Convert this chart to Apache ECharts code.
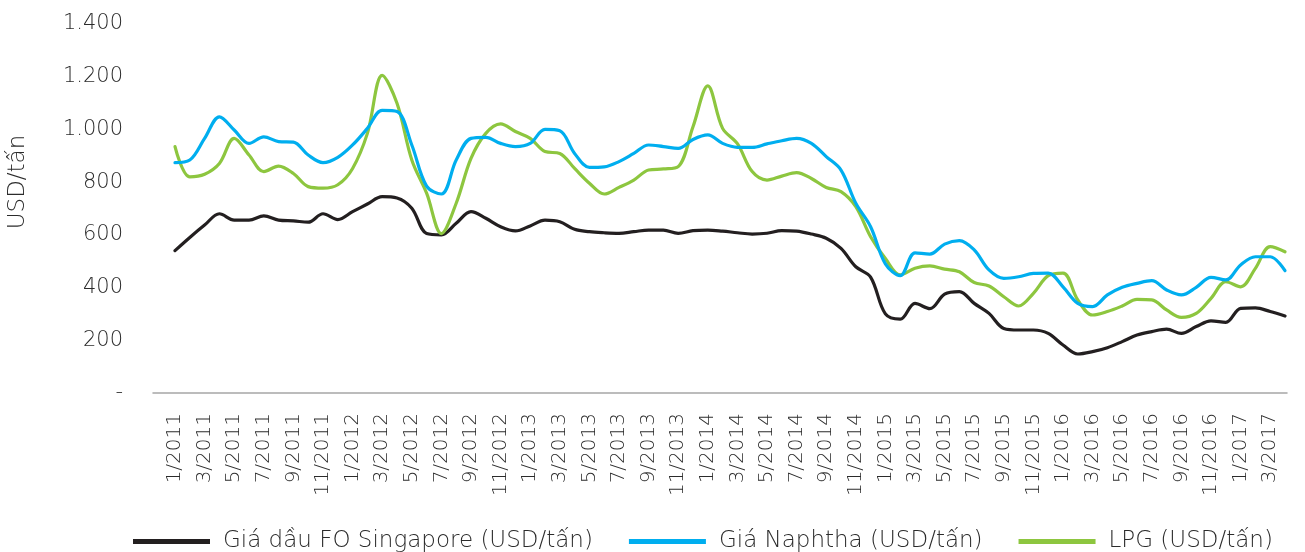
<!DOCTYPE html>
<html>
<head>
<meta charset="utf-8">
<script src="https://cdn.jsdelivr.net/npm/echarts@6/dist/echarts.min.js"></script>
<style>
  html, body { margin: 0; padding: 0; background: #ffffff; }
  #chart { width: 1305px; height: 552px; }
</style>
</head>
<body>
<div id="chart"></div>
<script>
// Monthly categories, 1/2011 – 4/2017
const months = [
  '1/2011','2/2011','3/2011','4/2011','5/2011','6/2011','7/2011','8/2011','9/2011','10/2011','11/2011','12/2011',
  '1/2012','2/2012','3/2012','4/2012','5/2012','6/2012','7/2012','8/2012','9/2012','10/2012','11/2012','12/2012',
  '1/2013','2/2013','3/2013','4/2013','5/2013','6/2013','7/2013','8/2013','9/2013','10/2013','11/2013','12/2013',
  '1/2014','2/2014','3/2014','4/2014','5/2014','6/2014','7/2014','8/2014','9/2014','10/2014','11/2014','12/2014',
  '1/2015','2/2015','3/2015','4/2015','5/2015','6/2015','7/2015','8/2015','9/2015','10/2015','11/2015','12/2015',
  '1/2016','2/2016','3/2016','4/2016','5/2016','6/2016','7/2016','8/2016','9/2016','10/2016','11/2016','12/2016',
  '1/2017','2/2017','3/2017','4/2017'
];

// Giá dầu FO Singapore (USD/tấn)
const foSingapore = [
  540, 590, 637, 680, 656, 656, 672, 656, 653, 648, 680, 658,
  688, 717, 745, 740, 701, 605, 600, 644, 688, 663, 631, 615,
  634, 656, 650, 621, 612, 608, 606, 612, 618, 618, 606, 616,
  618, 614, 608, 603, 606, 616, 614, 603, 587, 549, 479, 440,
  300, 280, 340, 320, 375, 385, 340, 302, 245, 239, 239, 226,
  182, 148, 157, 172, 195, 220, 233, 242, 226, 252, 274, 268,
  321, 323, 309, 292
];

// Giá Naphtha (USD/tấn)
const naphtha = [
  874, 884, 966, 1048, 998, 947, 972, 954, 952, 903, 874, 894,
  941, 1004, 1072, 1068, 941, 785, 755, 884, 966, 970, 947, 935,
  947, 1000, 995, 909, 856, 858, 878, 909, 941, 935, 928, 962,
  979, 947, 932, 932, 945, 957, 966, 947, 897, 846, 720, 631,
  490, 445, 532, 527, 565, 578, 543, 467, 435, 441, 454, 455,
  403, 340, 328, 372, 401, 416, 426, 391, 372, 401, 439, 429,
  486, 517, 517, 464
];

// LPG (USD/tấn)
const lpg = [
  935, 820, 830, 871, 966, 903, 840, 861, 833, 783, 777, 790,
  852, 985, 1205, 1099, 884, 758, 605, 720, 890, 985, 1021, 992,
  966, 916, 909, 852, 796, 755, 780, 808, 846, 850, 859, 1010,
  1165, 1004, 946, 840, 808, 823, 836, 814, 780, 764, 707, 593,
  510, 448, 473, 482, 470, 460, 419, 406, 365, 330, 378, 445,
  455, 353, 296, 309, 330, 355, 353, 315, 287, 302, 359, 422,
  403, 473, 555, 536
];

const seriesNames = [
  'Giá dầu FO Singapore (USD/tấn)',
  'Giá Naphtha (USD/tấn)',
  'LPG (USD/tấn)'
];
const seriesColors = ['#231f20', '#00aeef', '#8dc63f'];

const FONT = 'DejaVu Sans';
const FONT_WEIGHT = 200;
const TEXT_COLOR = '#2b2b2b';

function formatThousands(v) {
  if (v === 0) return '-';
  return String(v).replace(/\B(?=(\d{3})+(?!\d))/g, '.');
}

const chart = echarts.init(document.getElementById('chart'), null, { renderer: 'canvas' });

const lineSeries = [foSingapore, naphtha, lpg].map((values, k) => ({
  name: seriesNames[k],
  type: 'line',
  xAxisIndex: 0,
  yAxisIndex: 0,
  data: values,
  smooth: 0.35,
  symbol: 'none',
  showSymbol: false,
  z: [2, 4, 3][k],
  lineStyle: { color: seriesColors[k], width: 3.2, cap: 'round', join: 'round' },
  itemStyle: { color: seriesColors[k] }
}));

chart.setOption({
  animation: false,
  backgroundColor: '#ffffff',
  textStyle: { fontFamily: FONT, fontWeight: FONT_WEIGHT },
  grid: [
    { left: 175, right: 20, top: 24, bottom: 159, containLabel: false },
    { left: 153, right: 18, top: 24, bottom: 159, containLabel: false }
  ],
  xAxis: [
    {
      type: 'category',
      gridIndex: 0,
      data: months,
      boundaryGap: false,
      axisLine: { show: false },
      axisTick: { show: false },
      splitLine: { show: false },
      axisLabel: {
        interval: 1,
        rotate: 90,
        margin: 20,
        fontFamily: FONT,
        fontWeight: FONT_WEIGHT,
        fontSize: 20,
        color: TEXT_COLOR
      }
    },
    {
      // baseline spanning the full plot width
      type: 'value',
      gridIndex: 1,
      min: 0,
      max: 1,
      axisLine: { show: true, onZero: false, lineStyle: { color: '#a6a6a6', width: 1.5 } },
      axisTick: { show: false },
      axisLabel: { show: false },
      splitLine: { show: false }
    }
  ],
  yAxis: [
    {
      type: 'value',
      gridIndex: 0,
      min: 0,
      max: 1400,
      interval: 200,
      axisLine: { show: false },
      axisTick: { show: false },
      splitLine: { show: false },
      axisLabel: {
        margin: 52,
        fontFamily: FONT,
        fontWeight: FONT_WEIGHT,
        fontSize: 21,
        color: TEXT_COLOR,
        formatter: formatThousands
      }
    },
    {
      type: 'value',
      gridIndex: 1,
      min: 0,
      max: 1,
      show: false
    }
  ],
  legend: {
    data: seriesNames,
    left: 128,
    top: 525,
    icon: 'rect',
    itemWidth: 77,
    itemHeight: 5,
    itemGap: 36,
    textStyle: {
      fontFamily: FONT,
      fontWeight: FONT_WEIGHT,
      fontSize: 23,
      color: TEXT_COLOR,
      padding: [0, 0, 0, 8]
    }
  },
  graphic: [
    {
      type: 'text',
      x: 18,
      y: 182,
      rotation: Math.PI / 2,
      style: {
        text: 'USD/tấn',
        fontFamily: FONT,
        fontWeight: FONT_WEIGHT,
        fontSize: 23,
        fill: TEXT_COLOR,
        align: 'center',
        verticalAlign: 'middle'
      }
    }
  ],
  series: lineSeries
});
</script>
</body>
</html>
